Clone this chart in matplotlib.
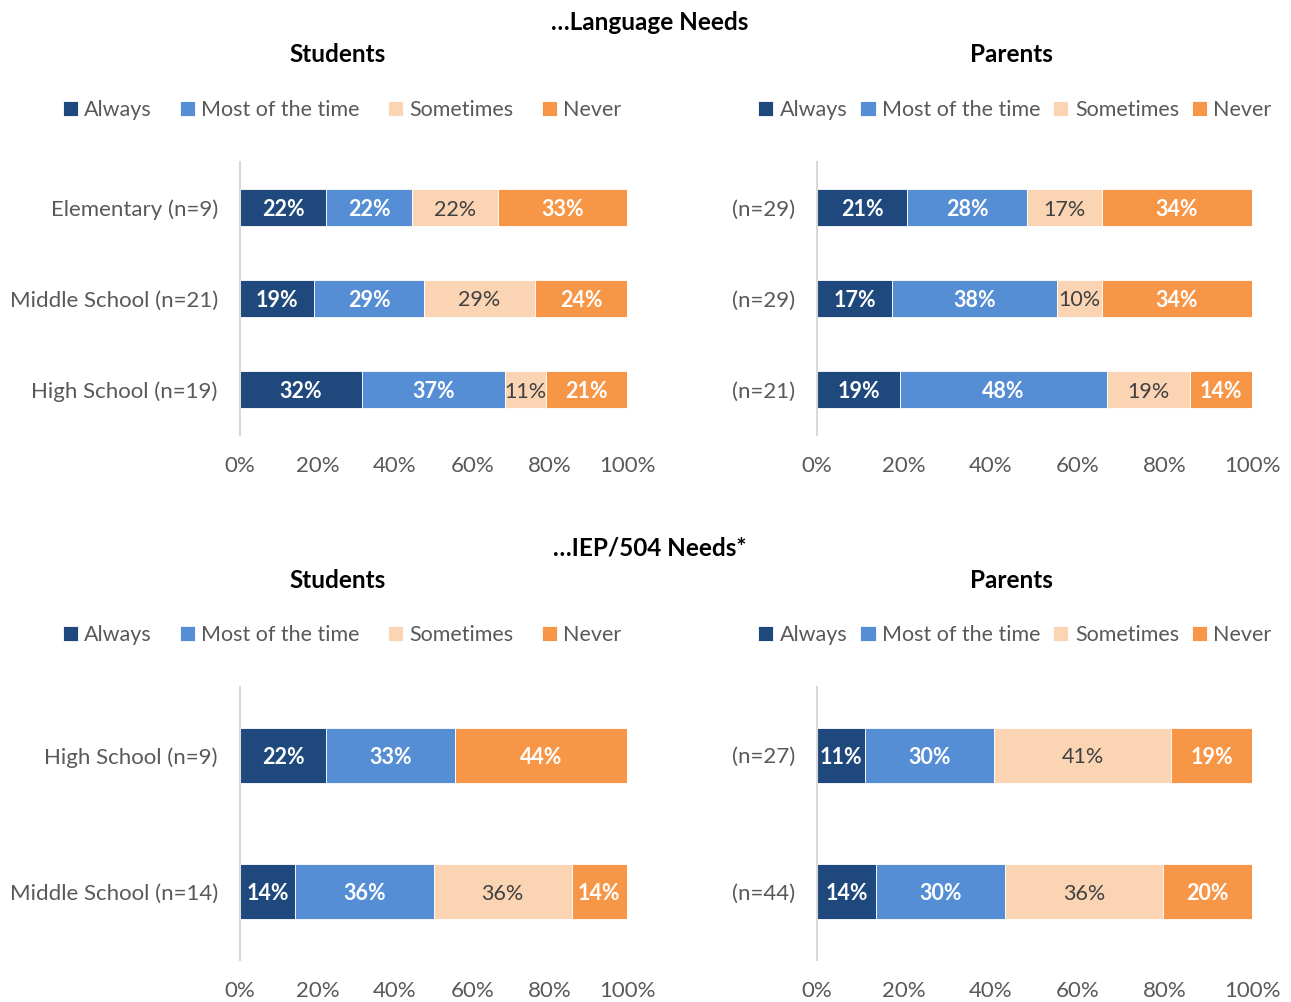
import matplotlib.pyplot as plt
import numpy as np

plt.rcParams['font.family'] = ['Lato', 'DejaVu Sans']

series = ["Always", "Most of the time", "Sometimes", "Never"]
colors = ["#1F497D", "#558ED5", "#FBD4B4", "#F79646"]
label_colors = ["white", "white", "#404040", "white"]
label_weights = ["bold", "bold", "normal", "bold"]

# Language needs
lang_students_rows = ["Elementary (n=9)", "Middle School (n=21)", "High School (n=19)"]
lang_students = [
    [22.22, 22.22, 22.22, 33.33],
    [19.05, 28.57, 28.57, 23.81],
    [31.58, 36.84, 10.53, 21.05],
]
lang_parents_rows = ["(n=29)", "(n=29)", "(n=21)"]
lang_parents = [
    [20.69, 27.59, 17.24, 34.48],
    [17.24, 37.93, 10.34, 34.48],
    [19.05, 47.62, 19.05, 14.29],
]

# IEP/504 needs
iep_students_rows = ["High School (n=9)", "Middle School (n=14)"]
iep_students = [
    [22.22, 33.33, 0.0, 44.44],
    [14.29, 35.71, 35.71, 14.29],
]
iep_parents_rows = ["(n=27)", "(n=44)"]
iep_parents = [
    [11.11, 29.63, 40.74, 18.52],
    [13.64, 29.55, 36.36, 20.45],
]

xticks = [0, 20, 40, 60, 80, 100]

W, H = 1291, 1002
fig = plt.figure(figsize=(W / 100, H / 100), dpi=100)


def px(x0, y0, x1, y1):
    return [x0 / W, 1 - y1 / H, (x1 - x0) / W, (y1 - y0) / H]


def panel(rect, rows, data):
    ax = fig.add_axes(rect)
    data = np.array(data)
    y = np.arange(len(rows))
    left = np.zeros(len(rows))
    for j, name in enumerate(series):
        vals = data[:, j]
        bars = ax.barh(y, vals, left=left, height=0.4, color=colors[j],
                       edgecolor="white", linewidth=0.6, label=name)
        for b, v in zip(bars, vals):
            if v > 0:
                ax.text(b.get_x() + b.get_width() / 2, b.get_y() + b.get_height() / 2,
                        f"{int(v + 0.5)}%", ha="center", va="center_baseline",
                        color=label_colors[j], fontweight=label_weights[j], fontsize=15.5)
        left += vals
    ax.set_xlim(0, 100)
    ax.set_ylim(len(rows) - 0.5, -0.5)
    ax.set_yticks(y)
    ax.set_yticklabels(rows)
    ax.set_xticks(xticks)
    ax.set_xticklabels([f"{t}%" for t in xticks])
    ax.tick_params(length=0, labelsize=16, colors="#595959")
    ax.tick_params(axis="y", pad=16)
    ax.tick_params(axis="x", pad=15)
    for s in ["top", "right", "bottom"]:
        ax.spines[s].set_visible(False)
    ax.spines["left"].set_color("#D9D9D9")
    ax.spines["left"].set_linewidth(1.5)
    return ax


def legend(ax, cx, cy, spacing):
    h, l = ax.get_legend_handles_labels()
    fig.legend(h, l, loc="center", bbox_to_anchor=(cx / W, 1 - cy / H), ncol=4,
               frameon=False, fontsize=15.5, handlelength=0.7, handleheight=0.7,
               handletextpad=0.3, columnspacing=spacing, labelcolor="#595959")


a1 = panel(px(240, 162, 627, 435), lang_students_rows, lang_students)
a2 = panel(px(817, 162, 1252, 435), lang_parents_rows, lang_parents)
a3 = panel(px(240, 687, 627, 960), iep_students_rows, iep_students)
a4 = panel(px(817, 687, 1252, 960), iep_parents_rows, iep_parents)

legend(a1, 342, 110, 1.3)
legend(a2, 1015, 110, 0.6)
legend(a3, 342, 635, 1.3)
legend(a4, 1015, 635, 0.6)

for txt, cx, cy in [("…Language Needs", 650, 22), ("Students", 338, 55), ("Parents", 1011, 55),
                    ("…IEP/504 Needs*", 650, 548), ("Students", 338, 581), ("Parents", 1011, 581)]:
    fig.text(cx / W, 1 - cy / H, txt, ha="center", va="center", fontsize=17.5,
             fontweight="bold", color="black")

fig.savefig("out.png", dpi=100)
